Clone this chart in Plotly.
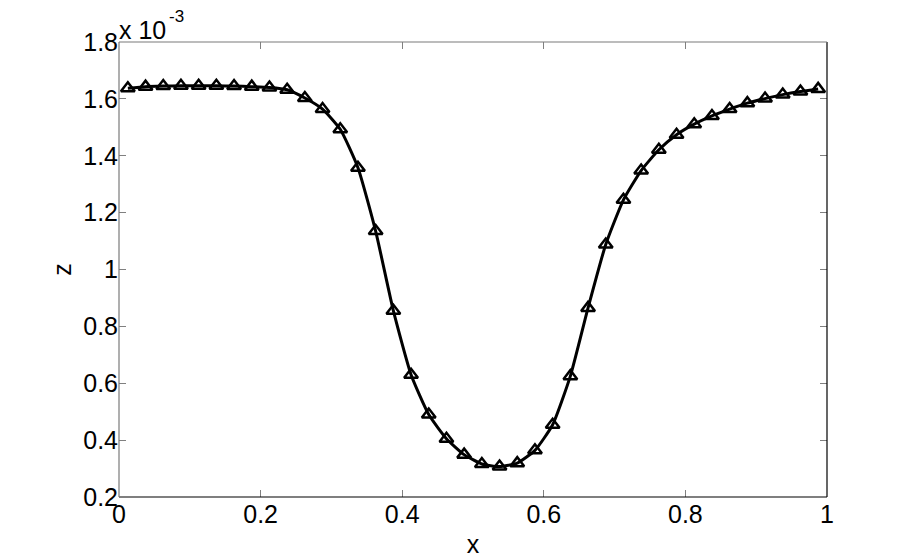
import plotly.graph_objects as go

# x positions of the samples
x_vals = [0.0125 + 0.025 * i for i in range(40)]
# z values in units of 1e-3
z_e3 = [1.637, 1.643, 1.645, 1.646, 1.646, 1.646, 1.645, 1.643, 1.640, 1.632,
        1.603, 1.564, 1.493, 1.358, 1.135, 0.855, 0.630, 0.490, 0.405, 0.349,
        0.316, 0.307, 0.319, 0.364, 0.454, 0.625, 0.865, 1.088, 1.245, 1.348,
        1.421, 1.474, 1.511, 1.540, 1.564, 1.585, 1.601, 1.615, 1.626, 1.635]

x_ticks = [0, 0.2, 0.4, 0.6, 0.8, 1]
x_ticklabels = ["0", "0.2", "0.4", "0.6", "0.8", "1"]
y_ticks = [0.2, 0.4, 0.6, 0.8, 1.0, 1.2, 1.4, 1.6, 1.8]
y_ticklabels = ["0.2", "0.4", "0.6", "0.8", "1", "1.2", "1.4", "1.6", "1.8"]

FONT = "Liberation Sans"
FS = 25

fig = go.Figure()
fig.add_trace(go.Scatter(
    x=x_vals, y=z_e3, mode="lines+markers",
    line=dict(color="black", width=3, shape="spline", smoothing=0.5),
    marker=dict(symbol="triangle-up-open", size=12, color="black",
                line=dict(color="black", width=2.5)),
    showlegend=False, hoverinfo="skip",
))

axis_common = dict(
    ticks="inside", ticklen=7, tickcolor="#808080", tickwidth=1,
    showgrid=False, zeroline=False, showline=False, mirror="allticks",
    automargin=False,
    tickfont=dict(family=FONT, size=FS, color="black"),
)

fig.update_layout(
    width=905, height=552,
    margin=dict(l=111, r=86, t=34, b=63, pad=0),
    paper_bgcolor="white", plot_bgcolor="white",
    xaxis=dict(range=[0, 1], tickvals=x_ticks, ticktext=x_ticklabels,
               title=dict(text="x", font=dict(family=FONT, size=FS, color="black"), standoff=8),
               **axis_common),
    yaxis=dict(range=[0.2, 1.8], tickvals=y_ticks, ticktext=y_ticklabels,
               title=dict(text="z", font=dict(family=FONT, size=FS, color="black"), standoff=4),
               **axis_common),
    shapes=[
        dict(type="line", xref="paper", yref="paper", x0=0, x1=1, y0=0, y1=0,
             line=dict(color="black", width=1.2)),
        dict(type="line", xref="paper", yref="paper", x0=1, x1=1, y0=0, y1=1,
             line=dict(color="black", width=1.2)),
        dict(type="line", xref="paper", yref="paper", x0=0, x1=0, y0=0, y1=1,
             line=dict(color="#7a7a7a", width=1.2)),
        dict(type="line", xref="paper", yref="paper", x0=0, x1=1, y0=1, y1=1,
             line=dict(color="#7a7a7a", width=1.2)),
    ],
    annotations=[
        dict(text="x 10", xref="paper", yref="paper", x=0, y=1,
             xanchor="left", yanchor="bottom", showarrow=False, xshift=-2, yshift=-4,
             font=dict(family=FONT, size=FS, color="black")),
        dict(text="-3", xref="paper", yref="paper", x=0, y=1,
             xanchor="left", yanchor="bottom", showarrow=False, xshift=48, yshift=14,
             font=dict(family=FONT, size=17, color="black")),
    ],
)

fig.write_html("out.html")
